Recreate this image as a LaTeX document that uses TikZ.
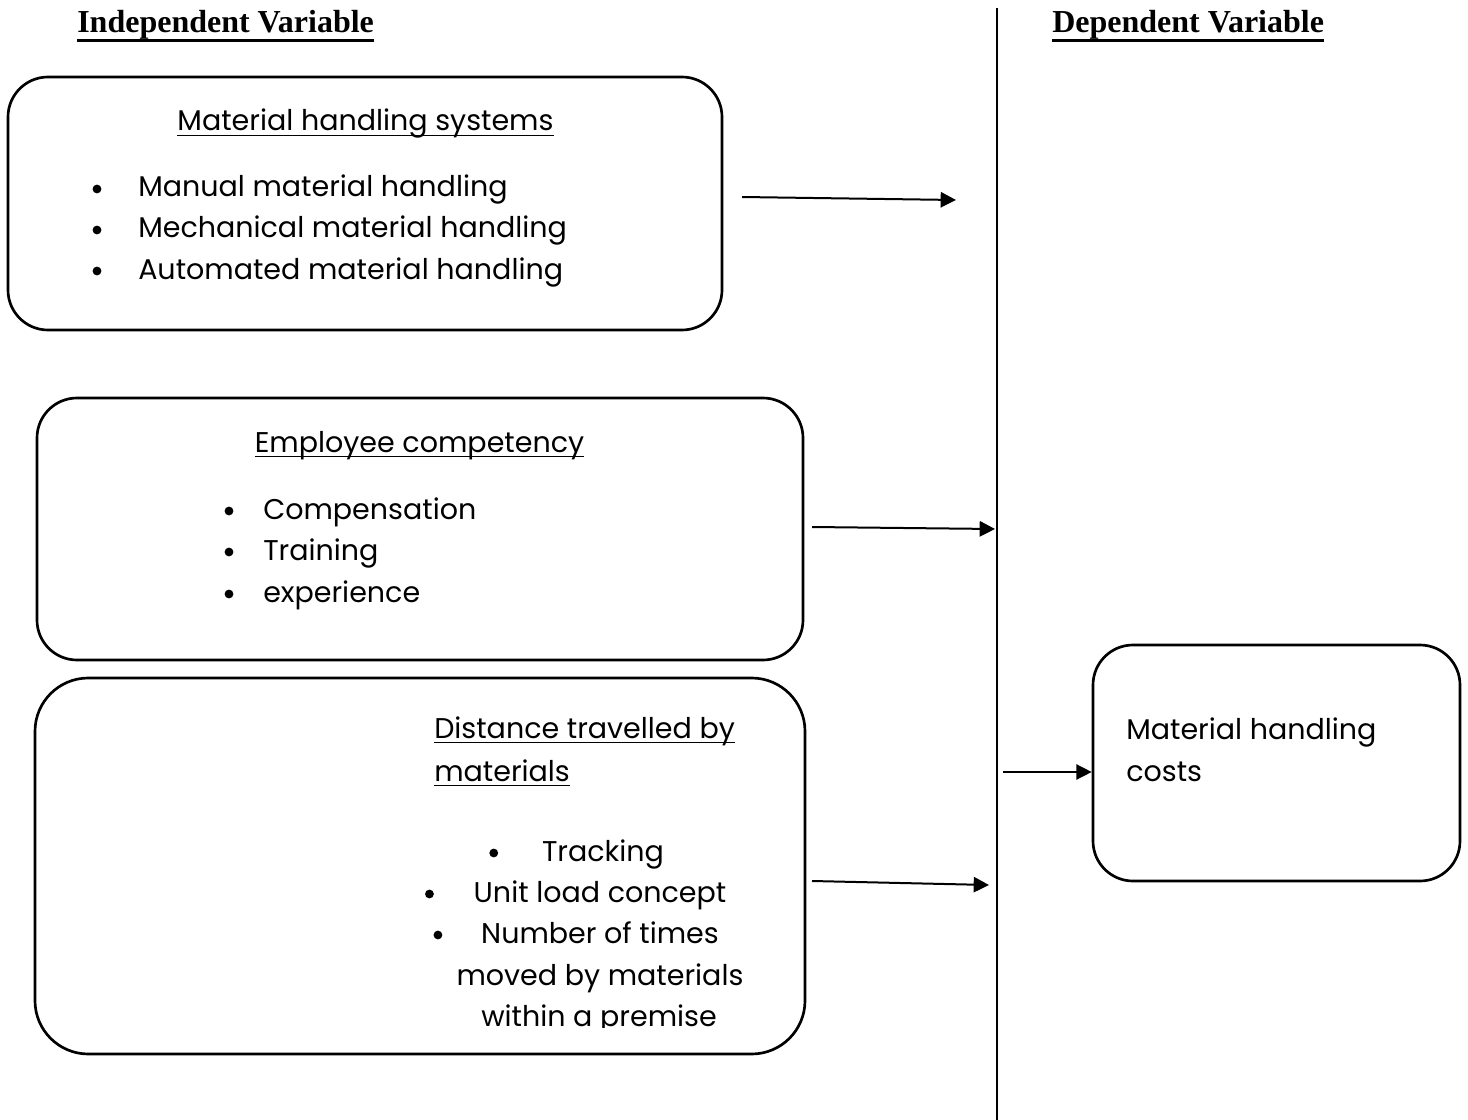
\documentclass[tikz,border=0pt]{standalone}
\usepackage{fontspec}
\setmainfont{Poppins}
\newfontfamily\titlefont{Liberation Serif}
\usetikzlibrary{arrows.meta}
\begin{document}
\begin{tikzpicture}[x=0.75pt,y=-0.75pt,
  box/.style={draw, line width=2pt, rounded corners=30pt, inner sep=0pt},
  txt/.style={inner sep=0pt, anchor=base west, font=\fontsize{21.4}{26}\selectfont},
  ctxt/.style={inner sep=0pt, anchor=base, font=\fontsize{21.4}{26}\selectfont},
  ttl/.style={inner sep=0pt, anchor=base west, font=\titlefont\bfseries\fontsize{24}{28}\selectfont},
  conn/.style={line width=1.5pt, -{Triangle[length=11.5pt, width=11.5pt]}},
  ulthin/.style={line width=1.1pt},
  ulthick/.style={line width=2.3pt}]
\useasboundingbox (0,0) rectangle (1468,1120);

% titles
\node[ttl] (t1) at (77,33) {Independent Variable};
\node[ttl] (t2) at (1052,33) {Dependent Variable};
\draw[ulthick] ([yshift=-5.6pt]t1.base west) -- ([yshift=-5.6pt]t1.base east);
\draw[ulthick] ([yshift=-5.6pt]t2.base west) -- ([yshift=-5.6pt]t2.base east);

% divider
\coordinate (vtop) at (997,8);
\coordinate (vbot) at (997,1120);
\draw[line width=1.2pt] (vtop) -- (vbot);

% boxes
\node[box, minimum width=535.5pt, minimum height=189.75pt] (b1) at (365,203.5) {};
\node[box, minimum width=574.5pt, minimum height=196.5pt] (b2) at (420,529) {};
\node[box, rounded corners=40pt, minimum width=577.5pt, minimum height=282pt] (b3) at (420,866) {};
\node[box, minimum width=275.25pt, minimum height=177pt] (b4) at (1276.5,763) {};

% box 1 text
\node[ctxt] (h1) at (365.5,131) {Material handling systems};
\draw[ulthin] ([yshift=-3.5pt]h1.base west) -- ([yshift=-3.5pt]h1.base east);
\node[txt] (i11) at (138,197) {Manual material handling};
\node[txt] (i12) at (138,238) {Mechanical material handling};
\node[txt] (i13) at (138,279) {Automated material handling};
\foreach \n in {i11,i12,i13}
  \fill ([xshift=-30.75pt]\n.base west) ++(0,-8) circle[radius=3.3pt];

% box 2 text
\node[ctxt] (h2) at (419.5,452) {Employee competency};
\draw[ulthin] ([yshift=-3.5pt]h2.base west) -- ([yshift=-3.5pt]h2.base east);
\node[txt] (i21) at (263,519) {Compensation};
\node[txt] (i22) at (263,560) {Training};
\node[txt] (i23) at (263,602) {experience};
\foreach \n in {i21,i22,i23}
  \fill ([xshift=-25.5pt]\n.base west) ++(0,-8) circle[radius=3.3pt];

% box 3 text
\node[txt] (h3a) at (434,738) {Distance travelled by};
\node[txt] (h3b) at (434,781) {materials};
\draw[ulthin] ([yshift=-3.5pt]h3a.base west) -- ([yshift=-3.5pt]h3a.base east);
\draw[ulthin] ([yshift=-3.5pt]h3b.base west) -- ([yshift=-3.5pt]h3b.base east);
\node[ctxt] (i31) at (603,861) {Tracking};
\node[ctxt] (i32) at (600,902) {Unit load concept};
\node[ctxt] (i33) at (600,943) {Number of times};
\node[ctxt] (i34) at (600,985) {moved by materials};
\begin{scope}
  \clip (400,990) rectangle (800,1027);
  \node[ctxt] (i35) at (599,1026) {within a premise};
\end{scope}
\fill ([xshift=-36pt]i31.base west) ++(0,-8) circle[radius=3.3pt];
\fill ([xshift=-33pt]i32.base west) ++(0,-8) circle[radius=3.3pt];
\fill ([xshift=-32.25pt]i33.base west) ++(0,-8) circle[radius=3.3pt];

% box 4 text
\node[txt] (c1) at (1126,739) {Material handling};
\node[txt] (c2) at (1126,781) {costs};

% connectors
\coordinate (a1s) at (742,197);
\coordinate (a1e) at (956,200);
\coordinate (a2s) at (812,527);
\coordinate (a2e) at (995,529);
\coordinate (a3s) at (812,881);
\coordinate (a3e) at (989,885);
\coordinate (a4s) at (1003,772);
\draw[conn] (a1s) -- (a1e);
\draw[conn] (a2s) -- (a2e);
\draw[conn] (a3s) -- (a3e);
\draw[conn, line width=1.1pt] (a4s) -- (b4.west |- a4s);
\end{tikzpicture}
\end{document}
